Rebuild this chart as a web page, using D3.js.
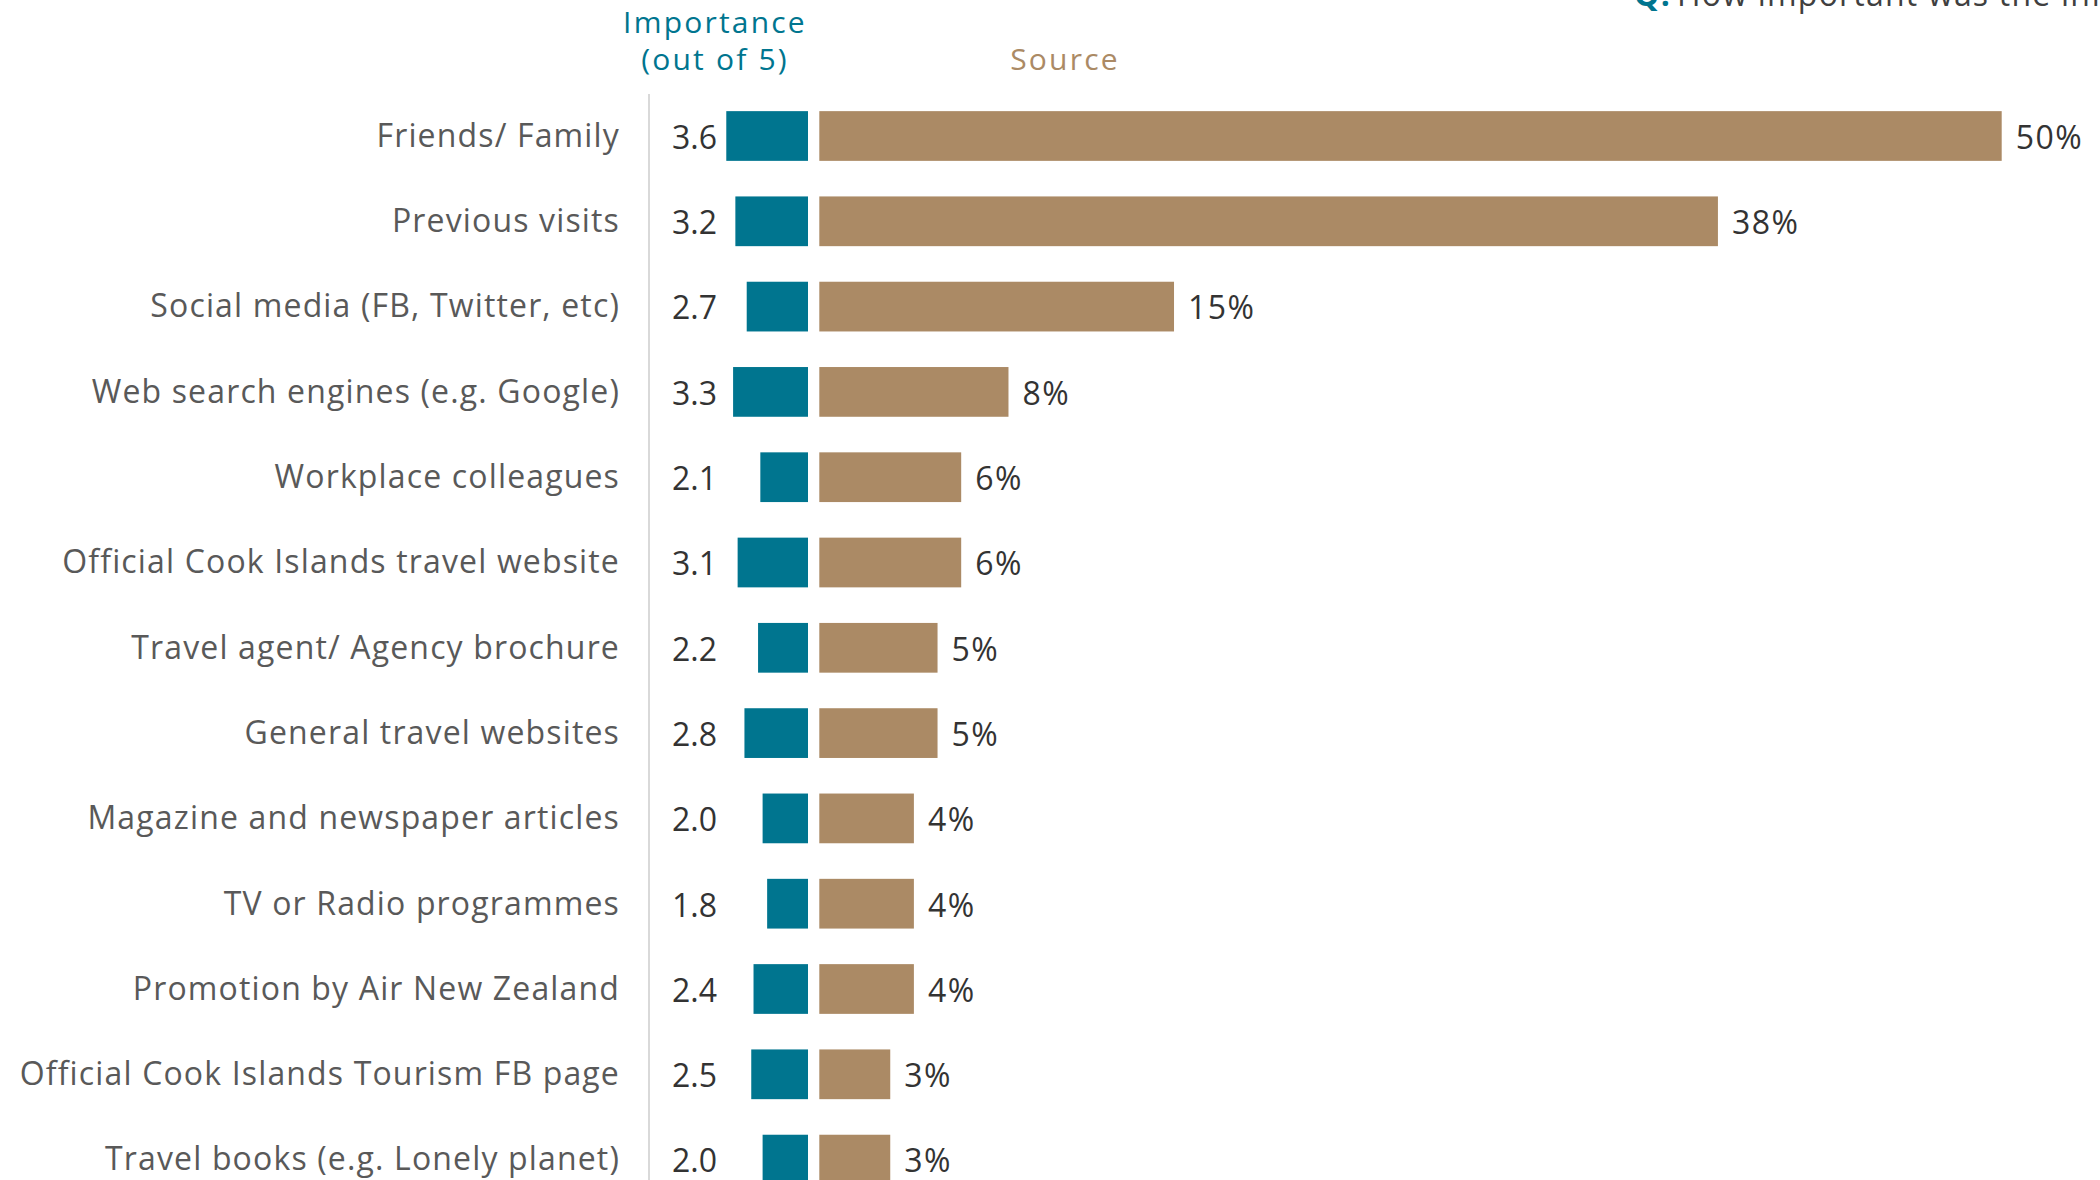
<!DOCTYPE html>
<html>
<head>
<meta charset="utf-8">
<script src="https://cdn.jsdelivr.net/npm/d3@7"></script>
<style>
  html, body { margin: 0; padding: 0; background: #fff; }
  svg { display: block; }
  text { font-family: "Open Sans", Lato, sans-serif; }
</style>
</head>
<body>
<svg id="chart" width="2100" height="1180"></svg>
<script>
// Information sources used when planning a Cook Islands trip
const categories = [
  "Friends/ Family",
  "Previous visits",
  "Social media (FB, Twitter, etc)",
  "Web search engines (e.g. Google)",
  "Workplace colleagues",
  "Official Cook Islands travel website",
  "Travel agent/ Agency brochure",
  "General travel websites",
  "Magazine and newspaper articles",
  "TV or Radio programmes",
  "Promotion by Air New Zealand",
  "Official Cook Islands Tourism FB page",
  "Travel books (e.g. Lonely planet)"
];
// Mean importance rating (out of 5)
const importance = [3.6, 3.2, 2.7, 3.3, 2.1, 3.1, 2.2, 2.8, 2.0, 1.8, 2.4, 2.5, 2.0];
// Share of visitors using each source (%)
const sourceShare = [50, 38, 15, 8, 6, 6, 5, 5, 4, 4, 4, 3, 3];

const TEAL = "#00758f";
const TAN = "#ab8a65";
const FONT = 32;

const svg = d3.select("#chart");

const rows = categories.map((c, i) => ({ cat: c, imp: importance[i], src: sourceShare[i] }));

const step = 85.3;
const y = d3.scaleBand()
  .domain(categories)
  .range([136 - step / 2, 136 - step / 2 + step * categories.length])
  .paddingInner(0.417)
  .paddingOuter(0.2085);

// importance bars grow leftwards from a shared right edge
const impRight = 808;
const xImp = d3.scaleLinear().domain([0, 5]).range([0, 113.5]);
// source bars grow rightwards
const xSrc = d3.scaleLinear().domain([0, 50]).range([819.3, 2001.7]);

// vertical divider between labels and bars
svg.append("line")
  .attr("x1", 649).attr("x2", 649)
  .attr("y1", 94).attr("y2", 1180)
  .attr("stroke", "#d9d9d9").attr("stroke-width", 2);

// column headers
const head = (x, yy, fill, txt) => svg.append("text")
  .attr("x", x).attr("y", yy)
  .attr("text-anchor", "middle")
  .attr("fill", fill).attr("font-size", 30)
  .attr("letter-spacing", 2.2)
  .text(txt);
head(715, 33, TEAL, "Importance");
head(715, 70, TEAL, "(out of 5)");
head(1065, 70, TAN, "Source");

// question text running off the top edge
const q = svg.append("text")
  .attr("x", 1634).attr("y", 6)
  .attr("font-size", FONT).attr("fill", "#404040")
  .attr("letter-spacing", 1.2);
q.append("tspan").attr("fill", TEAL).attr("font-weight", 700).text("Q.");
q.append("tspan").attr("dx", 6).text("How important was the information source?");

const row = svg.append("g").selectAll("g.row")
  .data(rows)
  .join("g")
  .attr("class", "row");

// category labels
row.append("text")
  .attr("x", 620)
  .attr("y", d => y(d.cat) + y.bandwidth() / 2)
  .attr("dy", "0.34em")
  .attr("text-anchor", "end")
  .attr("fill", "#595959")
  .attr("font-size", FONT)
  .attr("letter-spacing", 1.15)
  .text(d => d.cat);

// importance bars
row.append("rect")
  .attr("x", d => impRight - xImp(d.imp))
  .attr("y", d => y(d.cat))
  .attr("width", d => xImp(d.imp))
  .attr("height", y.bandwidth())
  .attr("fill", TEAL);

// importance values
row.append("text")
  .attr("x", 672)
  .attr("y", d => y(d.cat) + y.bandwidth() / 2)
  .attr("dy", "0.4em")
  .attr("fill", "#333")
  .attr("font-size", FONT)
  .text(d => d.imp.toFixed(1));

// source bars
row.append("rect")
  .attr("x", xSrc(0))
  .attr("y", d => y(d.cat))
  .attr("width", d => xSrc(d.src) - xSrc(0))
  .attr("height", y.bandwidth())
  .attr("fill", TAN);

// source share values
row.append("text")
  .attr("x", d => xSrc(d.src) + 14)
  .attr("y", d => y(d.cat) + y.bandwidth() / 2)
  .attr("dy", "0.4em")
  .attr("fill", "#333")
  .attr("font-size", FONT)
  .attr("letter-spacing", 1.5)
  .text(d => d.src + "%");
</script>
</body>
</html>
